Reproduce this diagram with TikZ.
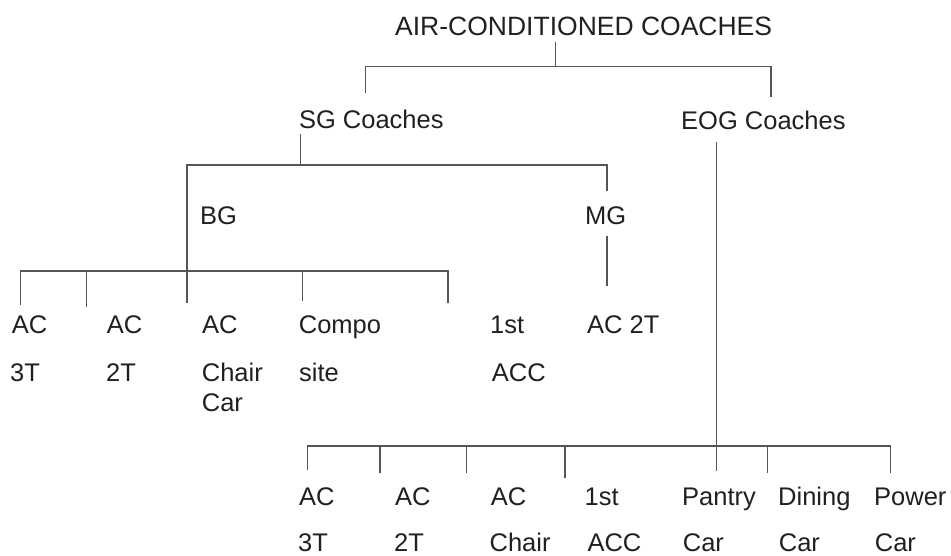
\documentclass[tikz,border=0pt]{standalone}
\usepackage{fontspec}
\setmainfont{Liberation Sans}
\definecolor{txt}{RGB}{35,31,32}
\definecolor{ln}{RGB}{85,85,85}
\begin{document}
\begin{tikzpicture}[x=1pt,y=-1pt,
  lbl/.style={inner sep=0pt,anchor=base west,text=txt,font=\fontsize{25.5}{30}\selectfont},
  ttl/.style={inner sep=0pt,anchor=base west,text=txt,font=\fontsize{26.5}{31}\selectfont},
  conn/.style={draw=ln,line width=1.2pt}]
\useasboundingbox (0,0) rectangle (951,555);
% texts
\node[ttl] (title) at (395,35) {AIR-CONDITIONED COACHES};
\node[lbl] (sg) at (298.8,128) {SG Coaches};
\node[lbl] (eog) at (681,129) {EOG Coaches};
\node[lbl] (bg) at (200,224) {BG};
\node[lbl] (mg) at (585,224) {MG};
% BG / MG children
\node[lbl] (a1) at (11.7,333) {AC};
\node[lbl] (a1b) at (10,381) {3T};
\node[lbl] (a2) at (106.7,333) {AC};
\node[lbl] (a2b) at (106,381) {2T};
\node[lbl] (a3) at (202,333) {AC};
\node[lbl] (a3b) at (201.7,381) {Chair};
\node[lbl] (a3c) at (201.7,411.7) {Car};
\node[lbl] (a4) at (298.7,333) {Compo};
\node[lbl] (a4b) at (299,381) {site};
\node[lbl] (a5) at (490,333) {1st};
\node[lbl] (a5b) at (491.7,381) {ACC};
\node[lbl] (m1) at (587,333) {AC 2T};
% EOG children
\node[lbl] (e1) at (299,505) {AC};
\node[lbl] (e1b) at (298,551) {3T};
\node[lbl] (e2) at (395,505) {AC};
\node[lbl] (e2b) at (394,551) {2T};
\node[lbl] (e3) at (490.7,505) {AC};
\node[lbl] (e3b) at (489.4,551) {Chair};
\node[lbl] (e4) at (584.5,505) {1st};
\node[lbl] (e4b) at (587.3,551) {ACC};
\node[lbl] (e5) at (682,505) {Pantry};
\node[lbl] (e5b) at (682.7,551) {Car};
\node[lbl] (e6) at (778,505) {Dining};
\node[lbl] (e6b) at (778.7,551) {Car};
\node[lbl] (e7) at (874,505) {Power};
\node[lbl] (e7b) at (874.7,551) {Car};
% coordinates
\coordinate (t0) at (555.7,41.7);
\coordinate (t1) at (555.7,66.7);
\coordinate (tl) at (365.5,66.7);
\coordinate (tr) at (771,66.7);
\coordinate (tld) at (365.5,93);
\coordinate (trd) at (771,96.7);
\coordinate (s0) at (300.7,134);
\coordinate (s1) at (300.7,165);
\coordinate (sl) at (187,165);
\coordinate (sr) at (607,165);
\coordinate (srd) at (607,191);
\coordinate (bgd) at (187,303);
\coordinate (bl) at (20.7,271);
\coordinate (br) at (448,271);
\coordinate (d1) at (20.7,305);
\coordinate (b2) at (86.7,271);
\coordinate (d2) at (86.7,306.5);
\coordinate (b4) at (302.7,271);
\coordinate (d4) at (302.7,300.7);
\coordinate (d5) at (448,302.7);
\coordinate (mg0) at (607,236);
\coordinate (mg1) at (607,286);
\coordinate (ev0) at (716.7,142);
\coordinate (ev1) at (716.7,470.7);
\coordinate (el) at (307.7,446);
\coordinate (er) at (890.5,446);
\coordinate (f1) at (307.7,470);
\coordinate (g2) at (380,446);
\coordinate (f2) at (380,473);
\coordinate (g3) at (466.7,446);
\coordinate (f3) at (466.7,473);
\coordinate (g4) at (565,446);
\coordinate (f4) at (565,478);
\coordinate (g6) at (767.3,446);
\coordinate (f6) at (767.3,473.3);
\coordinate (f7) at (890.5,473);
% connectors
\draw[conn] (t0) -- (t1);
\draw[conn] (tld) -- (tl) -- (tr) -- (trd);
\draw[conn] (s0) -- (s1);
\draw[conn] (bgd) -- (sl) -- (sr) -- (srd);
\draw[conn] (d1) -- (bl) -- (br) -- (d5);
\draw[conn] (b2) -- (d2);
\draw[conn] (b4) -- (d4);
\draw[conn] (mg0) -- (mg1);
\draw[conn] (ev0) -- (ev1);
\draw[conn] (f1) -- (el) -- (er) -- (f7);
\draw[conn] (g2) -- (f2);
\draw[conn] (g3) -- (f3);
\draw[conn] (g4) -- (f4);
\draw[conn] (g6) -- (f6);
\end{tikzpicture}
\end{document}
